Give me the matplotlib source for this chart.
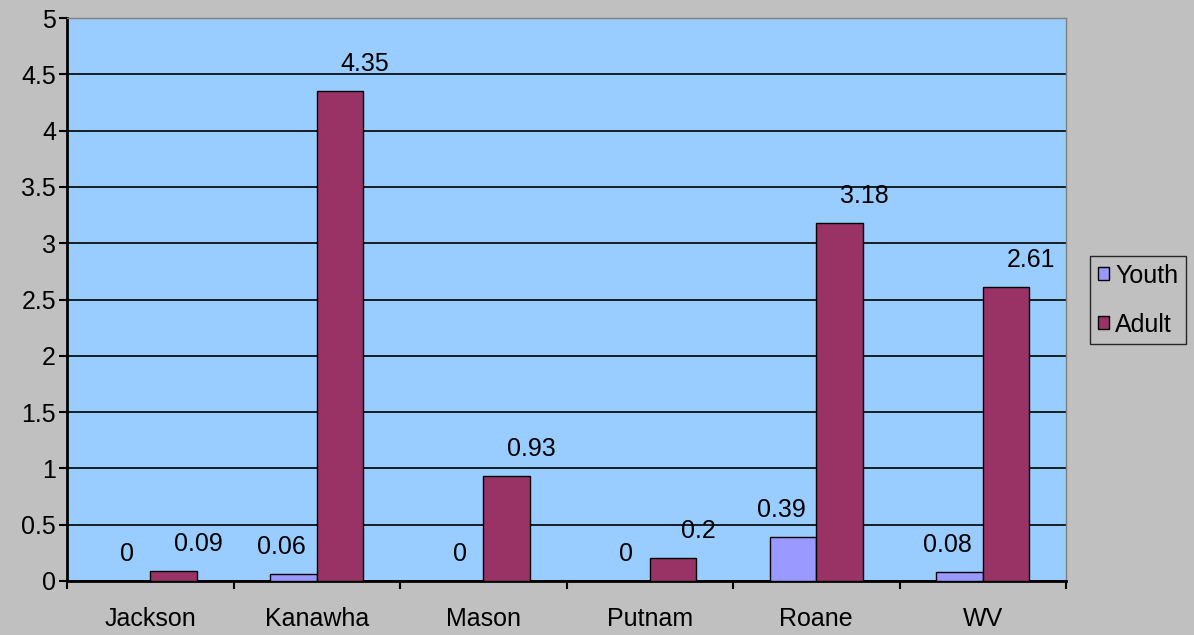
import matplotlib.pyplot as plt
import numpy as np

plt.rcParams['font.family'] = ['Liberation Sans', 'DejaVu Sans']

counties = ['Jackson', 'Kanawha', 'Mason', 'Putnam', 'Roane', 'WV']
youth = [0, 0.06, 0, 0, 0.39, 0.08]
adult = [0.09, 4.35, 0.93, 0.2, 3.18, 2.61]

W, H = 1194, 635
fig = plt.figure(figsize=(W / 100, H / 100), dpi=100, facecolor='#C0C0C0')
ax = fig.add_axes([67 / W, (H - 581) / H, (1066 - 67) / W, (581 - 18) / H])
ax.set_facecolor('#99CCFF')

x = np.arange(len(counties))
bw = 0.28
ax.bar(x - bw / 2, youth, bw, color='#9999FF', edgecolor='black', linewidth=1, label='Youth', zorder=3)
ax.bar(x + bw / 2, adult, bw, color='#993366', edgecolor='black', linewidth=1, label='Adult', zorder=3)

# value labels, nudged sideways like the original
for i, v in enumerate(youth):
    dx = 0 if v == 0 else -12
    ax.annotate(f'{v:g}', (x[i] - bw / 2, v), xytext=(dx, 27), textcoords='offset pixels',
                ha='center', va='center', fontsize=18)
for i, v in enumerate(adult):
    ax.annotate(f'{v:g}', (x[i] + bw / 2, v), xytext=(25, 27), textcoords='offset pixels',
                ha='center', va='center', fontsize=18)

ax.set_xlim(-0.5, len(counties) - 0.5)
ax.set_ylim(0, 5)
yt = np.arange(0, 5.01, 0.5)
ax.set_yticks(yt)
ax.set_yticklabels([f'{t:g}' for t in yt])
ax.yaxis.grid(True, color='black', linewidth=1.2, zorder=1)
ax.set_axisbelow(True)

ax.set_xticks(np.arange(-0.5, len(counties), 1))
ax.set_xticklabels([])
ax.set_xticks(x, minor=True)
ax.set_xticklabels(counties, minor=True)
ax.tick_params(axis='x', which='minor', length=0, pad=19, labelsize=18)
ax.tick_params(axis='x', which='major', length=6, width=1.5, direction='out')
ax.tick_params(axis='y', length=6, width=1.5, direction='out', labelsize=18, pad=2)

for s in ['top', 'right']:
    ax.spines[s].set_color('gray')
    ax.spines[s].set_linewidth(1)
for s in ['left', 'bottom']:
    ax.spines[s].set_linewidth(2)

leg = fig.legend(loc='center left', bbox_to_anchor=(1090 / W, (H - 300) / H), fontsize=18,
                 frameon=True, fancybox=False, facecolor='#C0C0C0', edgecolor='black',
                 handlelength=0.45, handleheight=0.45, handletextpad=0.25, borderpad=0.3,
                 labelspacing=1.0, borderaxespad=0)
leg.get_frame().set_linewidth(1)

fig.savefig('out.png', dpi=100, facecolor=fig.get_facecolor())
